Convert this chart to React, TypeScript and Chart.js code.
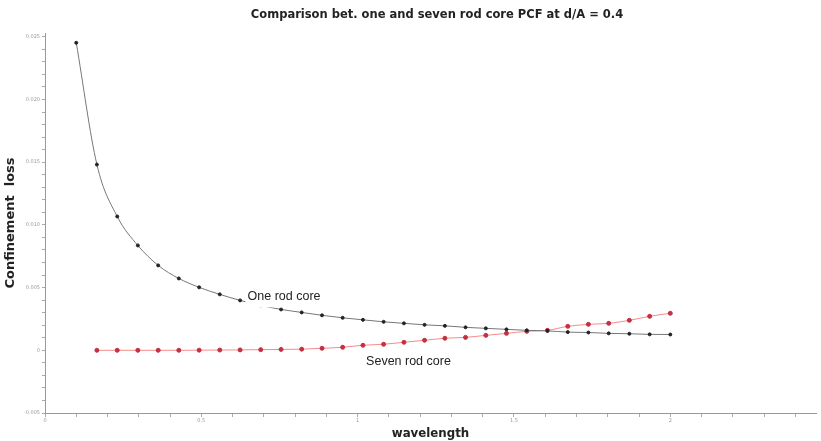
import React, { useEffect, useRef } from "react";
import { Chart, registerables } from "chart.js";

Chart.register(...registerables);

const wavelengthOne = [
  0.1, 0.166, 0.231, 0.297, 0.362, 0.428, 0.493, 0.559, 0.624, 0.69,
  0.755, 0.821, 0.886, 0.952, 1.017, 1.083, 1.148, 1.214, 1.279, 1.345,
  1.41, 1.476, 1.541, 1.607, 1.672, 1.738, 1.803, 1.869, 1.934, 2.0,
];
const lossOne = [
  0.02452, 0.01481, 0.01067, 0.00836, 0.00677, 0.00573, 0.00502, 0.00446, 0.00398, 0.00358,
  0.00326, 0.00302, 0.00279, 0.00259, 0.00243, 0.00227, 0.00215, 0.00203, 0.00195, 0.00183,
  0.00175, 0.00167, 0.00159, 0.00155, 0.00145, 0.00142, 0.00135, 0.00132, 0.00127, 0.00126,
];
const wavelengthSeven = [
  0.166, 0.231, 0.297, 0.362, 0.428, 0.493, 0.559, 0.624, 0.69,
  0.755, 0.821, 0.886, 0.952, 1.017, 1.083, 1.148, 1.214, 1.279, 1.345,
  1.41, 1.476, 1.541, 1.607, 1.672, 1.738, 1.803, 1.869, 1.934, 2.0,
];
const lossSeven = [
  0.0, 0.0, 0.0, 0.0, 0.0, 0.00001, 0.00002, 0.00003, 0.00005,
  0.00007, 0.00009, 0.00016, 0.00024, 0.0004, 0.00048, 0.00064, 0.0008, 0.00096, 0.00103,
  0.00119, 0.00135, 0.00151, 0.00159, 0.00191, 0.00207, 0.00215, 0.00239, 0.00271, 0.00295,
];

const xMajorLabels = [0, 0.5, 1, 1.5, 2];
const yMajorLabels = [-0.005, 0, 0.005, 0.01, 0.015, 0.02, 0.025];

const titleText = "Comparison bet. one and seven rod core PCF at d/A = 0.4";
const xTitle = "wavelength";
const yTitle = "Confinement  loss";
const seriesLabels = [
  { text: "One rod core", x: 0.648, y: 0.0043, bg: true },
  { text: "Seven rod core", x: 1.027, y: -0.00088, bg: false },
];

const near = (v: number, list: number[]) => list.some((m) => Math.abs(v - m) < 1e-7);

export default function App() {
  const ref = useRef<HTMLCanvasElement | null>(null);
  useEffect(() => {
    if (!ref.current) return;
    const annotate = {
      id: "annotate",
      afterDatasetsDraw(chart: any) {
        const ctx = chart.ctx;
        const xs = chart.scales.x;
        const ys = chart.scales.y;
        ctx.save();
        ctx.font = "12.5px 'Liberation Sans'";
        ctx.textBaseline = "middle";
        ctx.textAlign = "left";
        for (const l of seriesLabels) {
          const px = xs.getPixelForValue(l.x);
          const py = ys.getPixelForValue(l.y);
          const w = ctx.measureText(l.text).width;
          if (l.bg) {
            ctx.fillStyle = "#ffffff";
            ctx.fillRect(px - 2, py - 7, w - 18, 18);
            ctx.fillRect(px - 2, py - 7, w + 4, 13);
          }
          ctx.fillStyle = "#222";
          ctx.fillText(l.text, px, py);
        }
        ctx.font = "bold 11.5px 'DejaVu Sans'";
        ctx.textAlign = "center";
        ctx.fillStyle = "#222";
        ctx.fillText(titleText, 437, 15);
        ctx.restore();
      },
    };
    const chart = new Chart(ref.current, {
      type: "line",
      data: {
        datasets: [
          {
            label: "One rod core",
            data: wavelengthOne.map((x, i) => ({ x, y: lossOne[i] })),
            borderColor: "#777",
            borderWidth: 1,
            pointRadius: 1.5,
            pointBackgroundColor: "#222",
            pointBorderColor: "#222",
            cubicInterpolationMode: "monotone",
          },
          {
            label: "Seven rod core",
            data: wavelengthSeven.map((x, i) => ({ x, y: lossSeven[i] })),
            borderColor: "rgba(240,100,100,0.75)",
            borderWidth: 1,
            pointRadius: 2,
            pointBackgroundColor: "#c43040",
            pointBorderColor: "#c43040",
            cubicInterpolationMode: "monotone",
          },
        ],
      },
      plugins: [annotate],
      options: {
        animation: false,
        responsive: false,
        devicePixelRatio: 1,
        layout: { padding: { top: 33, right: 3, left: 0, bottom: 0 } },
        plugins: { legend: { display: false }, tooltip: { enabled: false }, title: { display: false } },
        scales: {
          x: {
            type: "linear",
            min: 0,
            max: 2.466,
            border: { color: "#999" },
            grid: { drawOnChartArea: false, tickLength: 4, color: "#aaa" },
            ticks: {
              stepSize: 0.1,
              includeBounds: false,
              autoSkip: false,
              maxRotation: 0,
              padding: 1,
              color: "#999",
              font: { size: 5, family: "'DejaVu Sans'" },
              callback: (v: any) => (near(Number(v), xMajorLabels) ? String(Number(v)) : ""),
            },
            afterBuildTicks: (s: any) => {
              s.ticks = s.ticks.filter((t: any) => Math.abs(t.value * 10 - Math.round(t.value * 10)) < 1e-6);
            },
            afterFit: (s: any) => {
              s.height = 28;
            },
            title: {
              display: true,
              text: xTitle,
              color: "#222",
              font: { size: 11.8, weight: "bold", family: "'DejaVu Sans'" },
              padding: { top: 0, bottom: 0 },
            },
          },
          y: {
            type: "linear",
            min: -0.005,
            max: 0.0253,
            border: { color: "#999" },
            grid: { drawOnChartArea: false, tickLength: 3, color: "#aaa" },
            ticks: {
              stepSize: 0.001,
              includeBounds: false,
              autoSkip: false,
              padding: 2,
              color: "#999",
              font: { size: 5, family: "'DejaVu Sans'" },
              callback: (v: any) => {
                const n = Number(v);
                if (!near(n, yMajorLabels)) return "";
                return Math.abs(n) < 1e-9 ? "0" : n.toFixed(3);
              },
            },
            afterBuildTicks: (s: any) => {
              s.ticks = s.ticks.filter((t: any) => Math.abs(t.value * 1000 - Math.round(t.value * 1000)) < 1e-6);
            },
            afterFit: (s: any) => {
              s.width = 45;
            },
            title: {
              display: true,
              text: yTitle,
              color: "#222",
              font: { size: 13, weight: "bold", family: "'DejaVu Sans'" },
              padding: { top: 3, bottom: 0 },
            },
          },
        },
      },
    } as any);
    return () => chart.destroy();
  }, []);
  return (
    <div style={{ position: "fixed", left: 0, top: 0, width: 821, height: 441, background: "#fff" }}>
      <canvas ref={ref} width={821} height={441} style={{ display: "block" }} />
    </div>
  );
}
